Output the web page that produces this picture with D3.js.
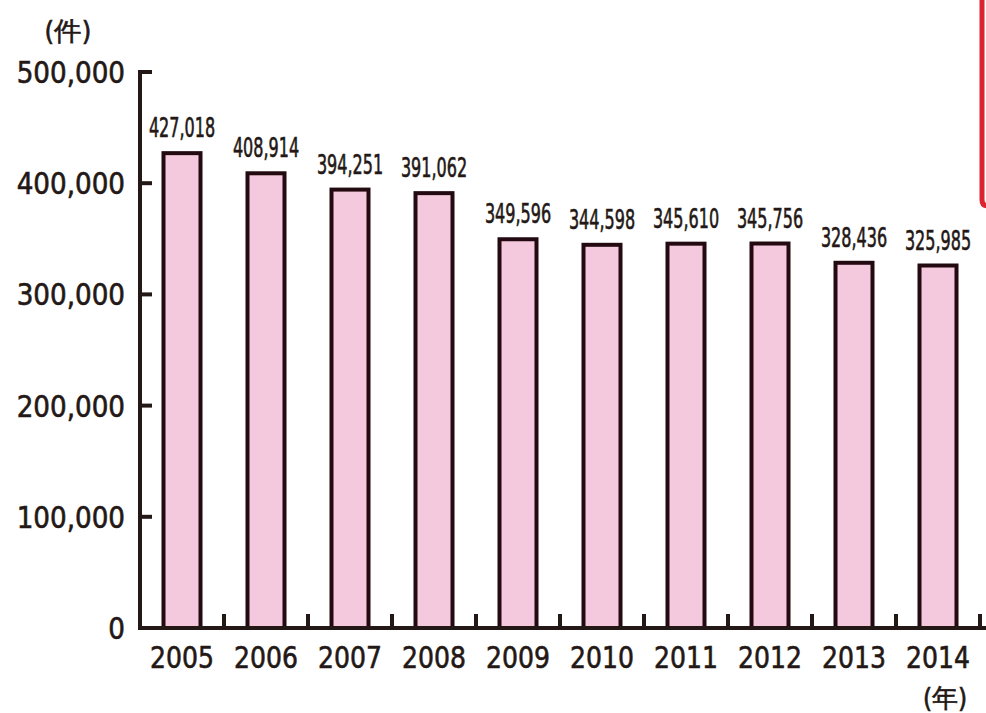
<!DOCTYPE html>
<html>
<head>
<meta charset="utf-8">
<script src="https://cdn.jsdelivr.net/npm/d3@7"></script>
<style>
  html, body { margin: 0; padding: 0; background: #fff; }
  svg { display: block; }
  text { font-family: "Liberation Sans Narrow", "DejaVu Sans Condensed", "Liberation Sans", sans-serif; fill: #231815; stroke: #231815; stroke-width: 0.6; }
</style>
</head>
<body>
<svg id="chart" width="986" height="713"></svg>
<script>
// Yearly counts (件)
const years = ["2005", "2006", "2007", "2008", "2009", "2010", "2011", "2012", "2013", "2014"];
const counts = [427018, 408914, 394251, 391062, 349596, 344598, 345610, 345756, 328436, 325985];
const valueLabels = ["427,018", "408,914", "394,251", "391,062", "349,596", "344,598", "345,610", "345,756", "328,436", "325,985"];
const yTicks = [0, 100000, 200000, 300000, 400000, 500000];
const yTickLabels = ["0", "100,000", "200,000", "300,000", "400,000", "500,000"];

const svg = d3.select("#chart");
const ink = "#231815";

const xb = d3.scaleBand().domain(years).range([140, 980]);
const step = xb.step();
const y = d3.scaleLinear().domain([0, 500000]).range([628, 72]);

// condensed glyphs: place at data-x/data-y and squeeze horizontally
function narrow(sel, sx) {
  sel.attr("transform", function () {
    const tx = +d3.select(this).attr("data-x"), ty = +d3.select(this).attr("data-y");
    return `translate(${tx},${ty}) scale(${sx},1)`;
  });
}

// bars
svg.append("g").selectAll("rect").data(counts).join("rect")
  .attr("x", (d, i) => xb(years[i]) + xb.bandwidth() / 2 - 18.5)
  .attr("y", d => y(d))
  .attr("width", 37)
  .attr("height", d => y(0) - y(d))
  .attr("fill", "#f5c9dd")
  .attr("stroke", "#230910")
  .attr("stroke-width", 4);

// baseline and separators between categories
svg.append("line").attr("x1", 140).attr("x2", 986).attr("y1", y(0)).attr("y2", y(0))
  .attr("stroke", ink).attr("stroke-width", 4);
svg.append("g").selectAll("line").data(years).join("line")
  .attr("x1", d => xb(d) + step)
  .attr("x2", d => xb(d) + step)
  .attr("y1", y(0)).attr("y2", y(0) - 14)
  .attr("stroke", ink).attr("stroke-width", 4);

// y axis
svg.append("line").attr("x1", 140).attr("x2", 140).attr("y1", y(500000) - 2).attr("y2", y(0) + 2)
  .attr("stroke", ink).attr("stroke-width", 4);
svg.append("g").selectAll("line").data(yTicks.slice(1)).join("line")
  .attr("x1", 140).attr("x2", 152).attr("y1", d => y(d)).attr("y2", d => y(d))
  .attr("stroke", ink).attr("stroke-width", 4);

svg.append("g").selectAll("text").data(yTicks).join("text")
  .attr("data-x", 125).attr("data-y", d => y(d) + 11)
  .attr("text-anchor", "end")
  .attr("font-size", 31)
  .text((d, i) => yTickLabels[i])
  .call(narrow, 0.94);

// year labels
svg.append("g").selectAll("text").data(years).join("text")
  .attr("data-x", d => xb(d) + xb.bandwidth() / 2).attr("data-y", 668)
  .attr("text-anchor", "middle")
  .attr("font-size", 31)
  .text(d => d)
  .call(narrow, 0.9);

// value labels above bars
svg.append("g").selectAll("text").data(counts).join("text")
  .attr("data-x", (d, i) => xb(years[i]) + xb.bandwidth() / 2)
  .attr("data-y", d => y(d) - 16)
  .attr("text-anchor", "middle")
  .attr("font-size", 27)
  .text((d, i) => valueLabels[i])
  .call(narrow, 0.66);

// units
svg.append("text").attr("data-x", 68).attr("data-y", 40).attr("text-anchor", "middle")
  .attr("font-size", 26).attr("font-family", "'Noto Sans CJK JP', sans-serif")
  .text("(件)").call(narrow, 1.05);
svg.append("text").attr("data-x", 945).attr("data-y", 707).attr("text-anchor", "middle")
  .attr("font-size", 26).attr("font-family", "'Noto Sans CJK JP', sans-serif")
  .text("(年)").call(narrow, 1.0);

// red edge rule at the right
svg.append("path").attr("d", "M982,0 L982,200 Q982,206 988,206")
  .attr("fill", "none").attr("stroke", "#dc2330").attr("stroke-width", 5);
</script>
</body>
</html>
